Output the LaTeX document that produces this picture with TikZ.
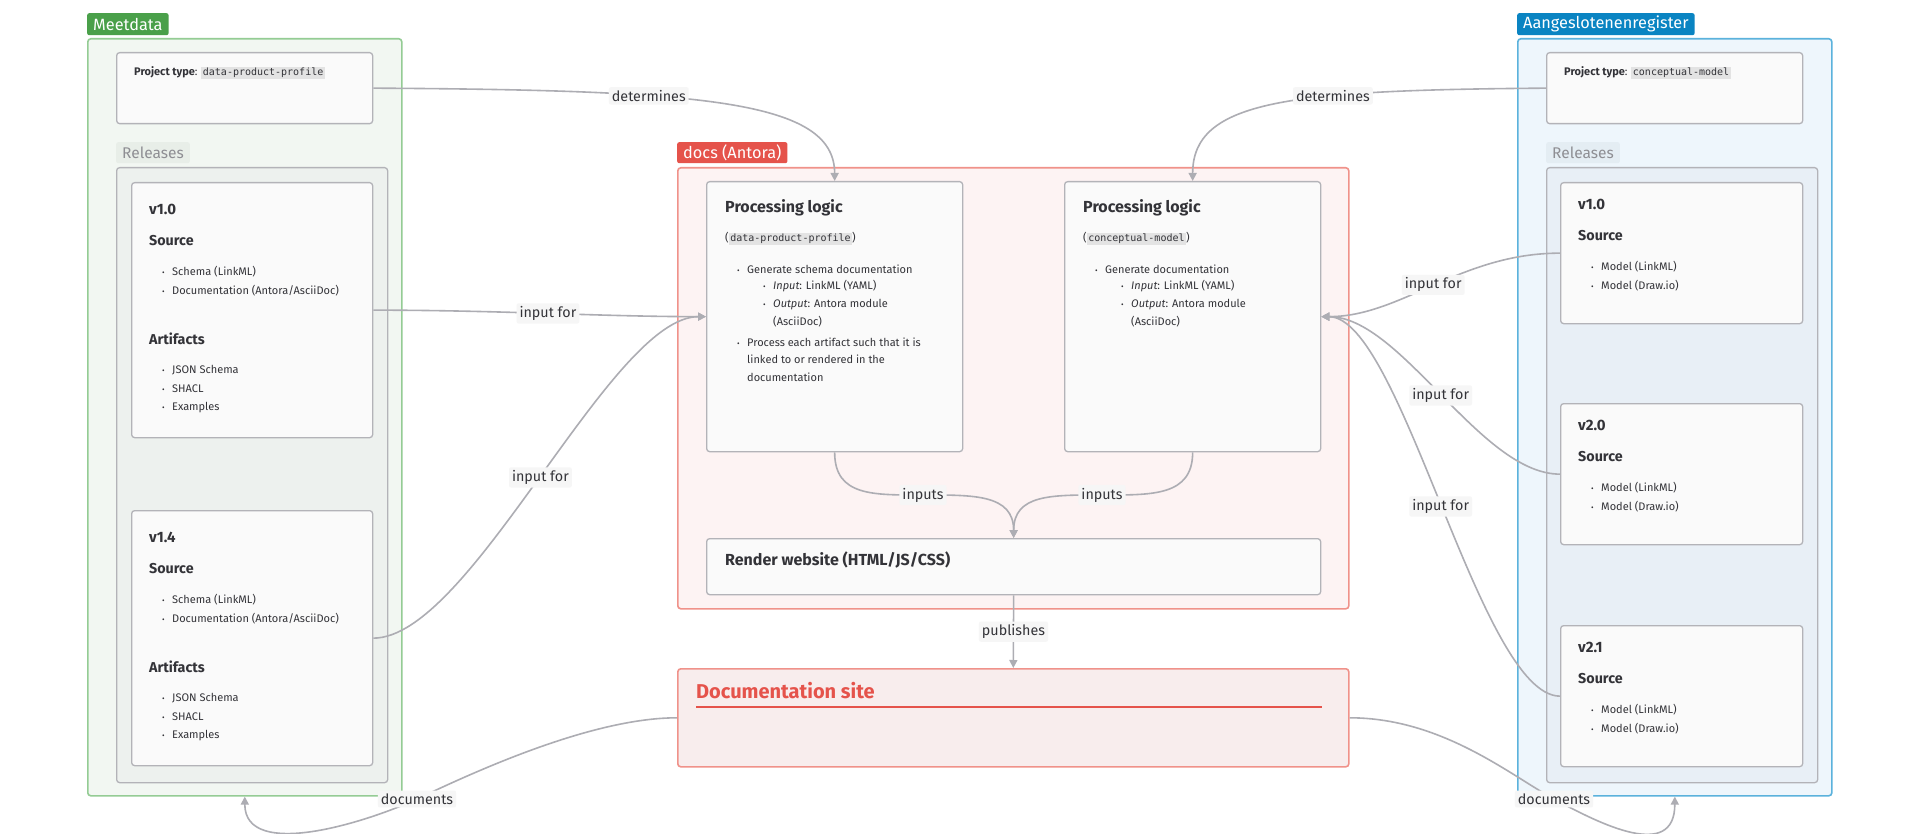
\documentclass[tikz,border=0pt]{standalone}
\usepackage{fontspec}
\setmainfont{Fira Sans}
\setmonofont{DejaVu Sans Mono}
\usetikzlibrary{arrows.meta}
\definecolor{edgegray}{HTML}{ADADB3}
\definecolor{textdark}{HTML}{333338}
\definecolor{cardbg}{HTML}{FAFAFA}
\definecolor{cardline}{HTML}{B3B3B8}
\definecolor{codebg}{HTML}{E3E3E3}
\definecolor{lblbg}{HTML}{F6F6F6}
\definecolor{mdtab}{HTML}{4AA04A}
\definecolor{mdline}{HTML}{94CC94}
\definecolor{mdfill}{HTML}{F2F7F2}
\definecolor{mdrel}{HTML}{EDF1EE}
\definecolor{mdrellbl}{HTML}{E8EEE8}
\definecolor{artab}{HTML}{0A84C2}
\definecolor{arline}{HTML}{5BB2DC}
\definecolor{arfill}{HTML}{EEF6FC}
\definecolor{arrel}{HTML}{E8EFF6}
\definecolor{arrellbl}{HTML}{E4EDF3}
\definecolor{docstab}{HTML}{E5534B}
\definecolor{docsline}{HTML}{F0928A}
\definecolor{docsfill}{HTML}{FDF3F3}
\definecolor{sitefill}{HTML}{F8EDED}
\definecolor{sitered}{HTML}{E5534B}
\definecolor{relgray}{HTML}{8E8E93}
\tikzstyle{arrow} = [line width=1.6pt,draw=edgegray,-{Triangle[length=8pt,width=8pt]}]
\newcommand{\snip}[1]{{\setlength{\fboxsep}{1.5pt}\colorbox{codebg}{\ttfamily\fontsize{10}{10}\selectfont #1}}}
\newcommand{\itm}{\makebox[10pt][l]{\fontsize{8}{8}\selectfont\textbullet}}

\begin{document}
\begin{tikzpicture}
        [
            x=1pt,y=-1pt,
            group/.style={draw,line width=1.6pt,rounded corners=3pt,anchor=north west,inner sep=0pt},
            card/.style={draw=cardline,fill=cardbg,line width=1.3pt,rounded corners=3pt,anchor=north west,inner sep=0pt},
            tab/.style={anchor=north west,rounded corners=2pt,text=white,font=\fontsize{16.3}{17}\selectfont,inner xsep=6pt,inner ysep=0pt,minimum height=22pt},
            rellbl/.style={anchor=north west,rounded corners=2pt,text=relgray,font=\fontsize{15.5}{16}\selectfont,inner xsep=6pt,inner ysep=0pt,minimum height=21pt},
            txt/.style={anchor=west,inner sep=0pt,text=textdark,font=\fontsize{11}{13}\selectfont},
            ttl/.style={txt,font=\fontsize{15}{17}\selectfont\bfseries},
            sub/.style={txt,font=\fontsize{14.3}{16}\selectfont\bfseries},
            lbl/.style={fill=lblbg,text=textdark,font=\fontsize{14.3}{16}\selectfont,inner sep=3pt,rounded corners=2pt},
        ]
    \useasboundingbox[fill=white] (0,0) rectangle (1919,834);

    % Meetdata
    \node[group,draw=mdline,fill=mdfill,minimum width=314,minimum height=757] (md) at (87,38) {};
    \node[tab,fill=mdtab] (mdTab) at (87,13) {Meetdata};
    \node[card,minimum width=256,minimum height=71] (ptA) at (116,52) {};
    \node[txt,font=\fontsize{11}{12}\selectfont] at (134,73) {\textbf{Project type}: \snip{data-product-profile}};
    \node[rellbl,fill=mdrellbl] (rlA) at (116,142) {Releases};
    \node[card,fill=mdrel,minimum width=271,minimum height=615] (rcA) at (116,167) {};
    \foreach \nm/\ver/\top in {relA/v1.0/182,relB/v1.4/510}{
        \node[card,minimum width=241,minimum height=255] (\nm) at (131,\top) {};
        \node[ttl] at (149,\top+27) {\ver};
        \node[sub] at (149,\top+59) {Source};
        \node[txt] at (162,\top+90) {\itm Schema (LinkML)};
        \node[txt] at (162,\top+109) {\itm Documentation (Antora/AsciiDoc)};
        \node[sub] at (149,\top+157) {Artifacts};
        \node[txt] at (162,\top+188) {\itm JSON Schema};
        \node[txt] at (162,\top+207) {\itm SHACL};
        \node[txt] at (162,\top+226) {\itm Examples};
    }

    % Aangeslotenenregister
    \node[group,draw=arline,fill=arfill,minimum width=314,minimum height=757] (ar) at (1517,38) {};
    \node[tab,fill=artab] (arTab) at (1517,13) {Aangeslotenenregister};
    \node[card,minimum width=256,minimum height=71] (ptB) at (1546,52) {};
    \node[txt,font=\fontsize{11}{12}\selectfont] at (1564,73) {\textbf{Project type}: \snip{conceptual-model}};
    \node[rellbl,fill=arrellbl] (rlB) at (1546,142) {Releases};
    \node[card,fill=arrel,minimum width=271,minimum height=615] (rcB) at (1546,167) {};
    \foreach \nm/\ver/\top in {relC/v1.0/182,relD/v2.0/403,relE/v2.1/625}{
        \node[card,minimum width=242,minimum height=141] (\nm) at (1560,\top) {};
        \node[ttl] at (1578,\top+22) {\ver};
        \node[sub] at (1578,\top+54) {Source};
        \node[txt] at (1591,\top+85) {\itm Model (LinkML)};
        \node[txt] at (1591,\top+104) {\itm Model (Draw.io)};
    }

    % docs (Antora)
    \node[group,draw=docsline,fill=docsfill,minimum width=671,minimum height=441] (docs) at (677,167) {};
    \node[tab,fill=docstab,minimum height=21pt] (docsTab) at (677,142) {docs (Antora)};
    \node[card,minimum width=256,minimum height=270] (plA) at (706,181) {};
    \node[ttl,font=\fontsize{16}{18}\selectfont\bfseries] at (725,208) {Processing logic};
    \node[txt] at (725,239) {(\snip{data-product-profile})};
    \foreach \x/\y/\t in {737/269/{\itm Generate schema documentation},
                         763/286/{\itm \textit{Input}: LinkML (YAML)},
                         763/305/{\itm \textit{Output}: Antora module},
                         773/322/{(AsciiDoc)},
                         737/342/{\itm Process each artifact such that it is},
                         747/359/{linked to or rendered in the},
                         747/377/{documentation}}
        \node[txt] at (\x,\y) {\t};
    \node[card,minimum width=256,minimum height=270] (plB) at (1064,181) {};
    \node[ttl,font=\fontsize{16}{18}\selectfont\bfseries] at (1083,208) {Processing logic};
    \node[txt] at (1083,239) {(\snip{conceptual-model})};
    \foreach \x/\y/\t in {1095/269/{\itm Generate documentation},
                         1121/286/{\itm \textit{Input}: LinkML (YAML)},
                         1121/305/{\itm \textit{Output}: Antora module},
                         1131/322/{(AsciiDoc)}}
        \node[txt] at (\x,\y) {\t};
    \node[card,minimum width=614,minimum height=56] (render) at (706,538) {};
    \node[ttl,font=\fontsize{16}{18}\selectfont\bfseries] at (725,560) {Render website (HTML/JS/CSS)};

    % Documentation site
    \node[group,draw=docsline,fill=sitefill,minimum width=671,minimum height=98] (site) at (677,668) {};
    \node[ttl,text=sitered,font=\fontsize{20}{22}\selectfont\bfseries] at (696,691) {Documentation site};
    \draw[sitered,line width=1.2pt] (696,707) -- (1322,707);

    % connectors
    \draw[arrow] (ptA.east) .. controls +(328,2) and +(0,-81) .. (plA.north) node[lbl,pos=0.35]{determines};
    \draw[arrow] (ptB.west) .. controls +(-256,2) and +(0,-81) .. (plB.north) node[lbl,pos=0.35]{determines};
    \draw[arrow] (relA.east) .. controls +(128,0) and +(-106,0) .. (plA.west) node[lbl,pos=0.5]{input for};
    \draw[arrow] (relB.east) .. controls +(98,0) and +(-96,0) .. (plA.west) node[lbl,pos=0.5]{input for};
    \draw[arrow] (relC.west) .. controls +(-100,0) and +(80,0) .. (plB.east) node[lbl,pos=0.5]{input for};
    \draw[arrow] (relD.west) .. controls +(-80,0) and +(80,0) .. (plB.east) node[lbl,pos=0.5]{input for};
    \draw[arrow] (relE.west) .. controls +(-80,0) and +(80,0) .. (plB.east) node[lbl,pos=0.5]{input for};
    \draw[arrow] (plA.south) .. controls +(0,44) and +(-50,0) .. (923,495) node[lbl]{inputs}
        .. controls +(50,0) and +(0,-44) .. (render.north);
    \draw[arrow] (plB.south) .. controls +(0,44) and +(50,0) .. (1102,495) node[lbl]{inputs}
        .. controls +(-50,0) and +(0,-44) .. (render.north);
    \draw[arrow] (render.south) -- (site.north) node[lbl,midway]{publishes};
    \draw[arrow] (site.west) .. controls +(-87,0) and +(53,-25) .. (417,799) node[lbl]{documents}
        .. controls +(-47,22) and +(0,65) .. (md.south);
    \draw[arrow] (site.east) .. controls +(92,0) and +(-44,-24) .. (1554,799) node[lbl]{documents}
        .. controls +(46,25) and +(0,65) .. (ar.south);
    \end{tikzpicture}
\end{document}
